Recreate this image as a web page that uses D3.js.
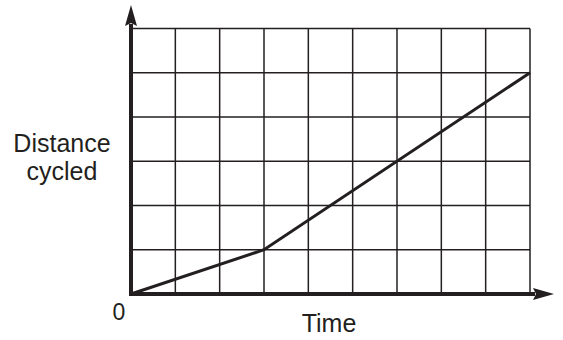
<!DOCTYPE html>
<html>
<head>
<meta charset="utf-8">
<script src="https://cdn.jsdelivr.net/npm/d3@7"></script>
<style>
  body { margin: 0; background: #fff; }
  svg { display: block; }
  text { font-family: "Liberation Sans", Arial, sans-serif; fill: #231f20; }
</style>
</head>
<body>
<div id="chart"></div>
<script>
// Distance cycled against time, grid units
const timePoints = [0, 3, 9];
const distancePoints = [0, 1, 5];
const gridCols = 9;
const gridRows = 6;
const yLabelLines = ["Distance", "cycled"];
const xLabel = "Time";
const originLabel = "0";

function drawChart() {
    const width = 563, height = 340;
    const ink = "#231f20";

    const svg = d3.select("#chart")
        .append("svg")
        .attr("width", width)
        .attr("height", height);

    const x = d3.scaleLinear().domain([0, gridCols]).range([131, 530]);
    const y = d3.scaleLinear().domain([0, gridRows]).range([294, 28.5]);

    // grid
    const grid = svg.append("g");
    grid.selectAll(".vline")
        .data(d3.range(1, gridCols + 1))
        .join("line")
        .attr("x1", d => x(d)).attr("x2", d => x(d))
        .attr("y1", y(0)).attr("y2", y(gridRows))
        .attr("stroke", ink).attr("stroke-width", 1.5);
    grid.selectAll(".hline")
        .data(d3.range(1, gridRows + 1))
        .join("line")
        .attr("x1", x(0)).attr("x2", x(gridCols))
        .attr("y1", d => y(d)).attr("y2", d => y(d))
        .attr("stroke", ink).attr("stroke-width", 1.5);

    // axes with arrows
    svg.append("line")
        .attr("x1", x(0)).attr("x2", 535)
        .attr("y1", y(0)).attr("y2", y(0))
        .attr("stroke", ink).attr("stroke-width", 4);
    svg.append("line")
        .attr("x1", x(0)).attr("x2", x(0))
        .attr("y1", y(0) + 2).attr("y2", 24)
        .attr("stroke", ink).attr("stroke-width", 4);

    svg.append("path")
        .attr("d", `M554,${y(0)} L533,${y(0) - 6} L536,${y(0)} L533,${y(0) + 6} Z`)
        .attr("fill", ink);
    svg.append("path")
        .attr("d", `M${x(0)},5 L${x(0) - 6},26 L${x(0)},23 L${x(0) + 6},26 Z`)
        .attr("fill", ink);

    // data line
    const pts = timePoints.map((t, i) => [t, distancePoints[i]]);
    svg.append("path")
        .datum(pts)
        .attr("d", d3.line().x(d => x(d[0])).y(d => y(d[1])))
        .attr("fill", "none")
        .attr("stroke", ink)
        .attr("stroke-width", 3)
        .attr("stroke-linejoin", "miter");

    // labels
    svg.append("text")
        .attr("x", 119).attr("y", 320)
        .attr("text-anchor", "middle")
        .style("font-size", "23px")
        .text(originLabel);

    svg.append("text")
        .attr("x", 329).attr("y", 332)
        .attr("text-anchor", "middle")
        .style("font-size", "25px")
        .text(xLabel);

    svg.append("text")
        .attr("text-anchor", "middle")
        .style("font-size", "25px")
        .selectAll("tspan")
        .data(yLabelLines)
        .join("tspan")
        .attr("x", 62)
        .attr("y", (d, i) => 151.5 + i * 28.5)
        .text(d => d);
}
drawChart();
</script>
</body>
</html>
